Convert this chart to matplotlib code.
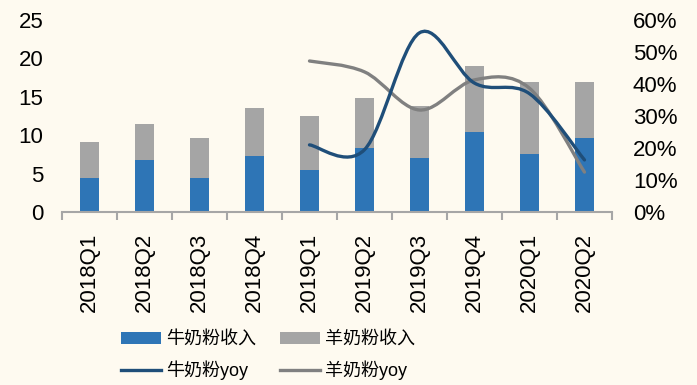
import matplotlib
matplotlib.use("Agg")
import matplotlib.pyplot as plt
from matplotlib.path import Path
from matplotlib.patches import PathPatch, Patch
from matplotlib.lines import Line2D
import numpy as np

plt.rcParams['font.family'] = ['Liberation Sans', 'Noto Sans CJK SC', 'DejaVu Sans']

categories = ['2018Q1', '2018Q2', '2018Q3', '2018Q4', '2019Q1', '2019Q2',
              '2019Q3', '2019Q4', '2020Q1', '2020Q2']
cow_rev = [4.4, 6.8, 4.4, 7.3, 5.5, 8.3, 7.0, 10.4, 7.55, 9.6]
sheep_rev = [4.7, 4.7, 5.2, 6.2, 7.0, 6.5, 6.8, 8.6, 9.35, 7.3]
yoy_idx = [4, 5, 6, 7, 8, 9]
cow_yoy = [0.21, 0.195, 0.56, 0.403, 0.37, 0.163]
sheep_yoy = [0.472, 0.438, 0.319, 0.413, 0.387, 0.125]

BG = '#FEFAF0'
C_COW = '#2E75B6'
C_SHEEP = '#A5A5A5'
C_COWL = '#1F4E79'
C_SHEEPL = '#808080'

fig = plt.figure(figsize=(6.97, 3.85), dpi=100, facecolor=BG)
ax = fig.add_axes([0.089, 0.449, 0.789, 0.499])
ax.set_facecolor(BG)
x = np.arange(len(categories))
ax.bar(x, cow_rev, width=0.33, color=C_COW, zorder=2)
ax.bar(x, sheep_rev, width=0.33, bottom=cow_rev, color=C_SHEEP, zorder=2)
ax.set_xlim(-0.5, len(categories) - 0.5)
ax.set_ylim(0, 25)
ax.set_yticks([0, 5, 10, 15, 20, 25])
ax.set_xticks(x)
ax.set_xticklabels(categories, rotation=90, fontsize=16)
ax.set_xticks(np.arange(-0.5, len(categories)), minor=True)
ax.tick_params(axis='x', which='major', length=0, pad=15)
ax.tick_params(axis='x', which='minor', length=6, width=1.5, color='#A6A6A6')
ax.tick_params(axis='y', length=0, labelsize=16, pad=13.5)
for s in ['top', 'right', 'left']:
    ax.spines[s].set_visible(False)
ax.spines['bottom'].set_color('#A6A6A6')
ax.spines['bottom'].set_linewidth(1.5)

ax2 = ax.twinx()
ax2.set_ylim(0, 0.6)
ax2.set_yticks(np.arange(0, 0.61, 0.1))
ax2.set_yticklabels([f'{int(round(v*100))}%' for v in np.arange(0, 0.61, 0.1)])
ax2.tick_params(axis='y', length=0, labelsize=16, pad=15)
for s in ax2.spines.values():
    s.set_visible(False)


def smooth_path(xs, ys):
    pts = np.column_stack([xs, ys]).astype(float)
    n = len(pts)
    verts = [pts[0]]
    codes = [Path.MOVETO]
    for i in range(n - 1):
        p0 = pts[i - 1] if i > 0 else pts[i]
        p1 = pts[i]
        p2 = pts[i + 1]
        p3 = pts[i + 2] if i + 2 < n else pts[i + 1]
        c1 = p1 + (p2 - p0) / 6.0
        c2 = p2 - (p3 - p1) / 6.0
        verts += [c1, c2, p2]
        codes += [Path.CURVE4] * 3
    return Path(verts, codes)


for ys, col in [(sheep_yoy, C_SHEEPL), (cow_yoy, C_COWL)]:
    pp = PathPatch(smooth_path(yoy_idx, ys), facecolor='none', edgecolor=col,
                   linewidth=2.4, capstyle='round', zorder=3)
    ax2.add_patch(pp)

handles = [Patch(facecolor=C_COW), Patch(facecolor=C_SHEEP),
           Line2D([], [], color=C_COWL, lw=2.4), Line2D([], [], color=C_SHEEPL, lw=2.4)]
labels = ['牛奶粉收入', '羊奶粉收入', '牛奶粉yoy', '羊奶粉yoy']
order = [0, 2, 1, 3]
fig.legend([handles[i] for i in order], [labels[i] for i in order], ncol=2,
           loc='center left', bbox_to_anchor=(0.1636, 0.076), borderaxespad=0,
           frameon=False, fontsize=13,
           handlelength=2.2, handleheight=0.65, columnspacing=1.3, handletextpad=0.3,
           labelspacing=0.7)

fig.savefig('out.png', dpi=100, facecolor=BG)
